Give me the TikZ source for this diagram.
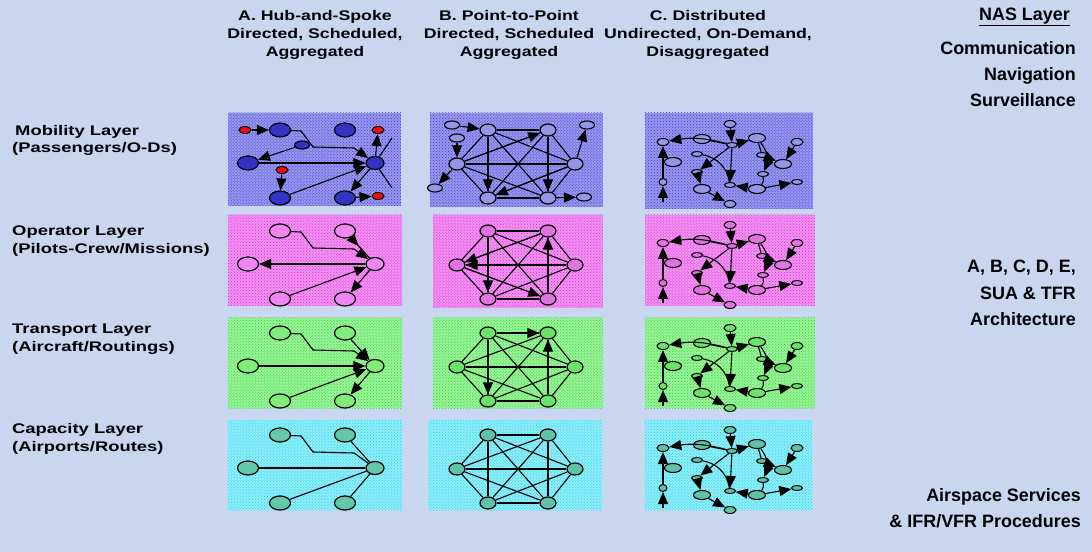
\documentclass[tikz,border=0pt]{standalone}
\usepackage{fontspec}
\setmainfont{Liberation Sans}
\newfontfamily\widefont[FakeStretch=1.32]{Liberation Sans}
\newfontfamily\headfont[FakeStretch=1.27]{Liberation Sans}
\usetikzlibrary{shapes.geometric,patterns,arrows.meta,calc}

\definecolor{bgblue}{RGB}{201,214,240}
\definecolor{dotblue}{RGB}{55,55,220}
\definecolor{padblue}{RGB}{152,152,236}
\definecolor{dotpink}{RGB}{235,30,235}
\definecolor{padpink}{RGB}{240,150,240}
\definecolor{dotgreen}{RGB}{15,225,15}
\definecolor{padgreen}{RGB}{160,242,160}
\definecolor{dotcyan}{RGB}{0,218,240}
\definecolor{padcyan}{RGB}{150,236,248}
\definecolor{hubblue}{RGB}{50,50,195}
\definecolor{hubred}{RGB}{235,15,15}
\definecolor{hubpink}{RGB}{240,135,240}
\definecolor{hubgreen}{RGB}{130,236,120}
\definecolor{hubteal}{RGB}{100,200,172}
\definecolor{ptblue}{RGB}{150,150,232}
\definecolor{ptpink}{RGB}{225,115,225}
\definecolor{ptgreen}{RGB}{105,228,105}
\definecolor{ptteal}{RGB}{95,195,170}

\tikzstyle{bignode}  = [ellipse, draw=black, line width=1.2bp, minimum width=21bp, minimum height=14bp, inner sep=0pt]
\tikzstyle{dotnode}  = [ellipse, draw=black, line width=1bp, minimum width=12bp, minimum height=7bp, inner sep=0pt]
\tikzstyle{ptnode}   = [ellipse, draw=black, line width=1.2bp, minimum width=16bp, minimum height=12bp, inner sep=0pt]
\tikzstyle{leafnode} = [ellipse, draw=black, line width=1.1bp, minimum width=15bp, minimum height=8bp, inner sep=0pt]
\tikzstyle{flatnode} = [ellipse, draw=black, line width=1bp, minimum width=11bp, minimum height=5bp, inner sep=0pt]
\tikzstyle{edge}     = [draw=black, line width=1.1bp]
\tikzstyle{arr}      = [edge, -{Triangle[length=12bp, width=10bp]}]
\tikzstyle{head}     = [font=\headfont\bfseries\fontsize{14}{18}\selectfont, align=center]
\tikzstyle{rowlbl}   = [font=\widefont\bfseries\fontsize{14}{17.5}\selectfont, align=left, anchor=west, inner sep=0pt]
\tikzstyle{nas}      = [font=\bfseries\fontsize{18}{26.5}\selectfont, align=right, anchor=east, inner sep=0pt]

% dotted layer panel: corners, fill, dots
\newcommand{\panel}[4]{%
  \fill[#3] #1 rectangle #2;
  \fill[pattern=crosshatch dots, pattern color=#4] #1 rectangle #2;}

% A: hub-and-spoke nodes, #1 name, #2 shift, #3 fill
\newcommand{\hubnodes}[3]{%
  \begin{scope}[shift={(0,#2)}]
    \node[bignode, fill=#3]                                       (#1tl)  at (280,130) {};
    \node[bignode, fill=#3]                                       (#1tr)  at (345,130) {};
    \node[bignode, fill=#3]                                       (#1l)   at (248,163) {};
    \node[bignode, fill=#3, minimum width=18bp, minimum height=13bp] (#1hub) at (375,163) {};
    \node[bignode, fill=#3]                                       (#1bl)  at (280,198) {};
    \node[bignode, fill=#3]                                       (#1br)  at (345,198) {};
    \coordinate (#1ja) at (301,131);
    \coordinate (#1jb) at (313,147);
    \coordinate (#1jc) at (354,148);
  \end{scope}}

% B: point-to-point nodes, all pairs joined
\newcommand{\ptnodes}[3]{%
  \begin{scope}[shift={(0,#2)}]
    \node[ptnode, fill=#3] (#1tl) at (488,130) {};
    \node[ptnode, fill=#3] (#1tr) at (548,130) {};
    \node[ptnode, fill=#3] (#1l)  at (457,164) {};
    \node[ptnode, fill=#3] (#1r)  at (575,164) {};
    \node[ptnode, fill=#3] (#1bl) at (488,198) {};
    \node[ptnode, fill=#3] (#1br) at (548,198) {};
  \end{scope}
  \foreach \a/\b in {tl/tr,tl/l,tl/r,tl/bl,tl/br,tr/l,tr/r,tr/bl,tr/br,l/r,l/bl,l/br,r/bl,r/br,bl/br}
    \draw[edge] (#1\a) -- (#1\b);}

% C: distributed nodes and links
\newcommand{\distgraph}[3]{%
  \begin{scope}[shift={(0,#2)}]
    \node[dotnode, fill=#3]  (#1n1)  at (730,124) {};
    \node[leafnode, fill=#3, minimum width=17bp, minimum height=9bp] (#1n2)  at (702,139) {};
    \node[leafnode, fill=#3, minimum width=17bp, minimum height=9bp] (#1n3)  at (757,138) {};
    \node[dotnode, fill=#3]  (#1n4)  at (663,142) {};
    \node[flatnode, fill=#3] (#1n5)  at (732,145) {};
    \node[dotnode, fill=#3]  (#1n6)  at (797,142) {};
    \node[flatnode, fill=#3] (#1n7)  at (697,154) {};
    \node[flatnode, fill=#3] (#1n8)  at (762,155) {};
    \node[leafnode, fill=#3, minimum width=17bp, minimum height=9bp] (#1n9)  at (673,162) {};
    \node[leafnode, fill=#3, minimum width=17bp, minimum height=9bp] (#1n10) at (783,164) {};
    \node[flatnode, fill=#3] (#1n11) at (697,172) {};
    \node[flatnode, fill=#3] (#1n12) at (763,174) {};
    \node[dotnode, fill=#3, minimum width=8bp] (#1n13) at (663,182) {};
    \node[leafnode, fill=#3, minimum width=17bp, minimum height=9bp] (#1n14) at (702,189) {};
    \node[flatnode, fill=#3] (#1n15) at (730,185) {};
    \node[leafnode, fill=#3, minimum width=17bp, minimum height=9bp] (#1n16) at (757,189) {};
    \node[flatnode, fill=#3] (#1n17) at (797,182) {};
    \node[dotnode, fill=#3]  (#1n18) at (730,204) {};
    \coordinate (#1foot) at (663,202);
  \end{scope}
  \draw[arr]  (#1n1) -- (#1n5);
  \draw[edge] (#1n2) -- (#1n5);
  \draw[arr]  (#1n5) -- (#1n3);
  \draw[arr]  (#1n5) -- (#1n15);
  \draw[arr]  (#1n5) to[bend right=12] (#1n4);
  \draw[arr]  (#1n5) -- (#1n11);
  \draw[edge] (#1n7) to[bend left=35] (#1n15);
  \draw[edge] (#1n3) -- (#1n8);
  \draw[arr]  (#1n8) -- (#1n10);
  \draw[arr]  (#1n6) -- (#1n10);
  \draw[arr]  (#1n3) to[bend left=30] (#1n12);
  \draw[edge] (#1n12) to[bend left=25] (#1n16);
  \draw[arr]  (#1n16) -- (#1n17);
  \draw[arr]  (#1n16) -- (#1n15);
  \draw[arr]  (#1n11) -- (#1n14);
  \draw[arr]  (#1n14) -- (#1n18);
  \draw[arr]  (#1n13) -- (#1n4);
  \draw[arr]  (#1foot) -- (#1n13);}

\begin{document}
\begin{tikzpicture}[x=1bp, y=-1bp]
\useasboundingbox (0,0) rectangle (1092,552);
\fill[bgblue] (0,0) rectangle (1092,552);

% Headers
\node[head] (hA) at (315,35) {A. Hub-and-Spoke\\Directed, Scheduled,\\Aggregated};
\node[head] (hB) at (509,35) {B. Point-to-Point\\Directed, Scheduled\\Aggregated};
\node[head] (hC) at (708,35) {C. Distributed\\Undirected, On-Demand,\\Disaggregated};

% NAS side
\node[nas] (nas)  at (1070,17)  {\underline{NAS Layer}};
\node[nas] (cns)  at (1076,74)  {Communication\\Navigation\\Surveillance};
\node[nas] (arch) at (1076,293) {A, B, C, D, E,\\SUA \& TFR\\Architecture};
\node[nas] (proc) at (1081,508) {Airspace Services\\\& IFR/VFR Procedures};

% Layer names
\node[rowlbl] (mob) at (12,140.5) {\hspace{3bp}Mobility Layer\\(Passengers/O-Ds)};
\node[rowlbl] (opr) at (12,241)   {Operator Layer\\(Pilots-Crew/Missions)};
\node[rowlbl] (trn) at (12,339)   {Transport Layer\\(Aircraft/Routings)};
\node[rowlbl] (cap) at (12,439)   {Capacity Layer\\(Airports/Routes)};

% Panels
\panel{(228,113)}{(401,206)}{padblue}{dotblue}
\panel{(430,113)}{(603,207)}{padblue}{dotblue}
\panel{(645,113)}{(813,209)}{padblue}{dotblue}
\panel{(228,215)}{(402,306)}{padpink}{dotpink}
\panel{(433,215)}{(603,308)}{padpink}{dotpink}
\panel{(645,215)}{(815,306)}{padpink}{dotpink}
\panel{(228,318)}{(402,408)}{padgreen}{dotgreen}
\panel{(433,318)}{(603,408)}{padgreen}{dotgreen}
\panel{(645,318)}{(815,408)}{padgreen}{dotgreen}
\panel{(228,420)}{(402,510)}{padcyan}{dotcyan}
\panel{(428,420)}{(602,510)}{padcyan}{dotcyan}
\panel{(645,420)}{(812,510)}{padcyan}{dotcyan}

% Mobility layer, hub-and-spoke
\hubnodes{a1}{0}{hubblue}
\node[dotnode, fill=hubred]  (a1ra) at (245,130) {};
\node[dotnode, fill=hubred]  (a1rb) at (378,130) {};
\node[dotnode, fill=hubred]  (a1rc) at (282,170) {};
\node[dotnode, fill=hubred]  (a1rd) at (378,196) {};
\node[leafnode, fill=hubblue] (a1sb) at (302,145) {};
\coordinate (a1out) at (392,138);
\coordinate (a1low) at (392,188);
\draw[arr]  (a1ra) -- (a1tl);
\draw[arr]  (a1tl) -- (a1ja) -- (a1jb) -- (a1jc) -- (a1hub);
\draw[arr]  (a1sb) -- (a1l);
\draw[arr]  (a1l) -- (a1hub);
\draw[arr]  (a1hub) -- (a1rb);
\draw[edge] (a1hub) -- (a1out);
\draw[arr]  (a1rc) -- (a1bl);
\draw[arr]  (a1bl) -- (a1hub);
\draw[arr]  (a1hub) -- (a1br);
\draw[edge] (a1hub) -- (a1low);
\draw[arr]  (a1br) -- (a1rd);

% Operator layer, hub-and-spoke
\hubnodes{a2}{101}{hubpink}
\draw[arr]  (a2tl) -- (a2ja) -- (a2jb) -- (a2jc) -- (a2hub);
\draw[edge] (a2tr) -- (a2hub);
\draw[arr]  (a2tr) -- ($(a2tr)!0.45!(a2hub)$);
\draw[arr]  (a2hub) -- (a2l);
\draw[arr]  (a2bl) -- (a2hub);
\draw[arr]  (a2hub) -- (a2br);

% Transport layer, hub-and-spoke
\hubnodes{a3}{203}{hubgreen}
\draw[arr]  (a3tl) -- (a3ja) -- (a3jb) -- (a3jc) -- (a3hub);
\draw[arr]  (a3tr) -- (a3hub);
\draw[arr]  (a3l) -- (a3hub);
\draw[arr]  (a3bl) -- (a3hub);
\draw[arr]  (a3hub) -- (a3br);

% Capacity layer, hub-and-spoke
\hubnodes{a4}{305}{hubteal}
\draw[edge] (a4tl) -- (a4ja) -- (a4jb) -- (a4jc) -- (a4hub);
\draw[edge] (a4tr) -- (a4hub);
\draw[edge] (a4l) -- (a4hub);
\draw[edge] (a4bl) -- (a4hub);
\draw[edge] (a4br) -- (a4hub);

% Point-to-point, four layers
\ptnodes{b1}{0}{ptblue}
\node[leafnode, fill=ptblue] (b1la) at (452,125) {};
\node[leafnode, fill=ptblue] (b1lb) at (587,125) {};
\node[leafnode, fill=ptblue] (b1lc) at (457,138) {};
\node[leafnode, fill=ptblue] (b1ld) at (435,188) {};
\node[leafnode, fill=ptblue] (b1le) at (584,197) {};
\draw[arr] (b1la) -- (b1tl);
\draw[arr] (b1lc) -- (b1l);
\draw[arr] (b1l) -- (b1ld);
\draw[arr] (b1r) -- (b1lb);
\draw[arr] (b1br) -- (b1le);
\draw[arr] (b1tl) -- (b1bl);
\draw[arr] (b1tr) -- (b1br);
\draw[arr] (b1l) -- (b1tr);
\draw[arr] (b1r) -- (b1bl);

\ptnodes{b2}{101}{ptpink}
\draw[arr] (b2tr) -- (b2l);
\draw[arr] (b2r) -- (b2l);
\draw[arr] (b2tl) -- (b2bl);
\draw[arr] (b2l) -- (b2br);
\draw[arr] (b2br) -- (b2tr);

\ptnodes{b3}{203}{ptgreen}
\draw[arr] (b3tl) -- (b3tr);
\draw[arr] (b3tl) -- (b3bl);
\draw[arr] (b3br) -- (b3tr);

\ptnodes{b4}{305}{ptteal}

% Distributed, four layers
\distgraph{c1}{0}{ptblue}
\distgraph{c2}{101}{ptpink}
\distgraph{c3}{204}{ptgreen}
\distgraph{c4}{306}{ptteal}

\end{tikzpicture}
\end{document}
